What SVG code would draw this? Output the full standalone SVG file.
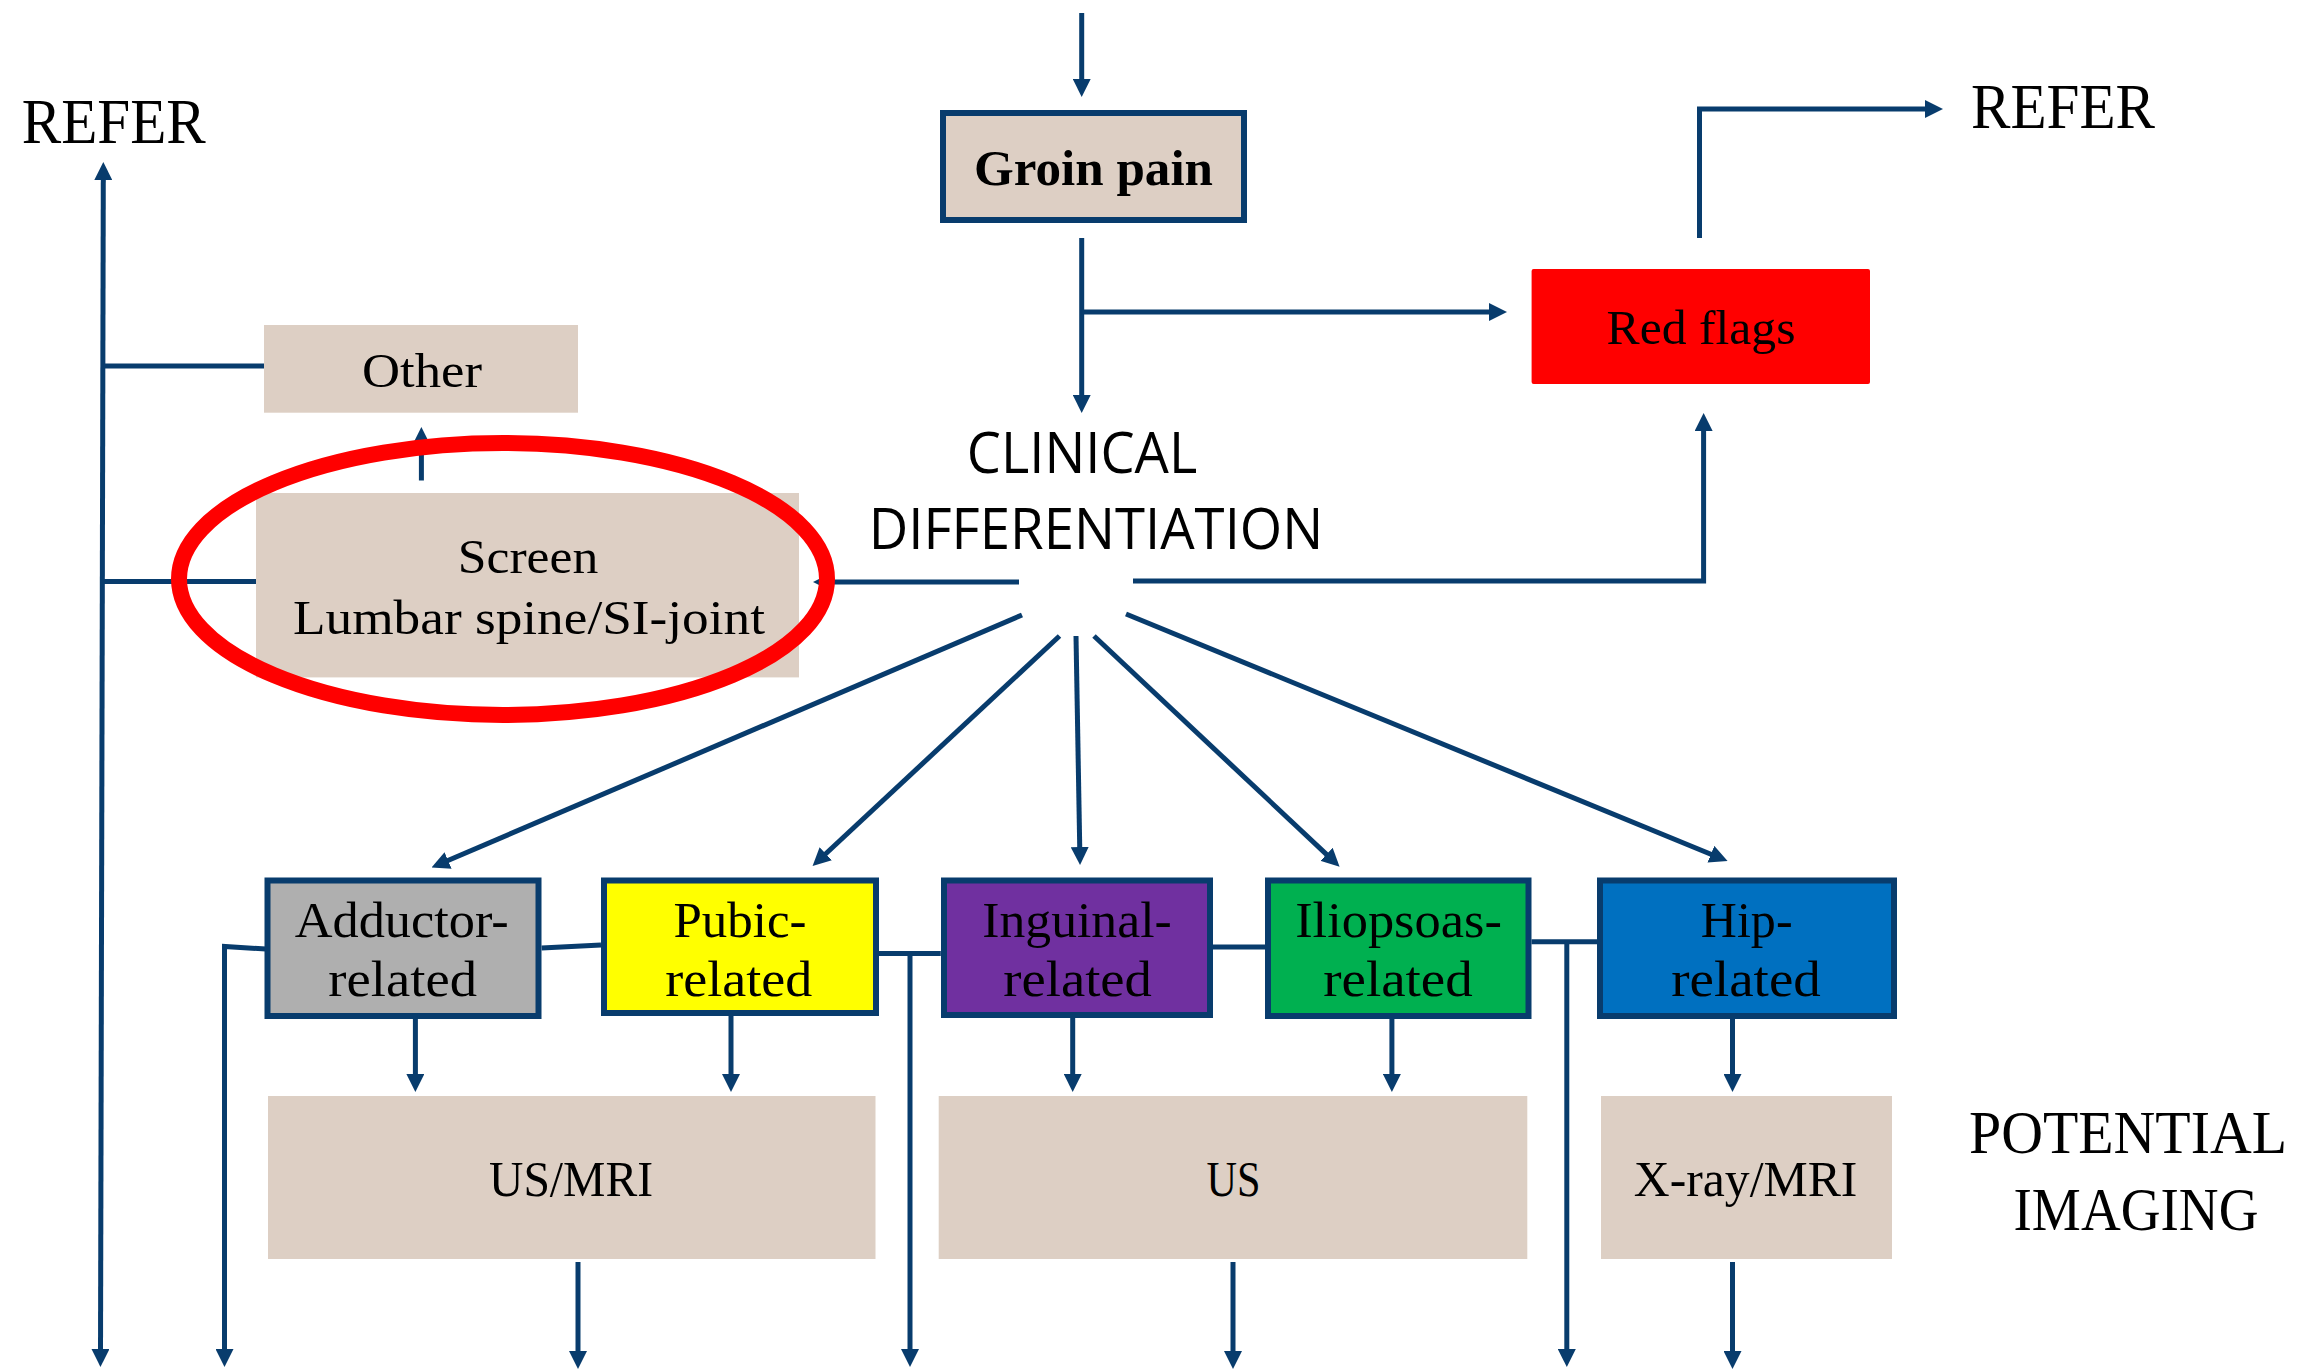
<svg xmlns="http://www.w3.org/2000/svg" width="2306" height="1372" viewBox="0 0 2306 1372">
<style>
.c{fill:none;stroke:#083c6d;stroke-width:5}
.t{stroke:#083c6d;stroke-width:6}
.tan{fill:#ddcfc4}
.s{font-family:"Liberation Serif",serif;fill:#000;text-anchor:middle}
.ss{font-family:"Open Sans","Liberation Sans",sans-serif;fill:#000;text-anchor:middle}
</style>
<defs>
<marker id="ah" markerUnits="userSpaceOnUse" markerWidth="18" markerHeight="18" refX="4" refY="9" orient="auto-start-reverse">
<path d="M0,0 L18,9 L0,18 z" fill="#083c6d"/>
</marker>
</defs>
<rect width="2306" height="1372" fill="#fff"/>
<g id="connectors">
<path class="c" d="M1081.7,13 L1081.7,83" marker-end="url(#ah)"/>
<path class="c" d="M1081.7,238 L1081.7,399" marker-end="url(#ah)"/>
<path class="c" d="M1081.7,312 L1493,312" marker-end="url(#ah)"/>
<path class="c" d="M1699.5,238 L1699.5,109 L1929,109" marker-end="url(#ah)"/>
<path class="c" d="M1133,581 L1703.6,581 L1703.6,427" marker-end="url(#ah)"/>
<path class="c" d="M1019,582 L827,582" marker-end="url(#ah)"/>
<path class="c" d="M1022,615 L444.4,862" marker-end="url(#ah)"/>
<path class="c" d="M1059.5,636 L822.8,856.5" marker-end="url(#ah)"/>
<path class="c" d="M1076,636 L1079.8,851" marker-end="url(#ah)"/>
<path class="c" d="M1094,636 L1329.4,857.1" marker-end="url(#ah)"/>
<path class="c" d="M1126,614 L1714.6,855.7" marker-end="url(#ah)"/>
<path class="c" d="M100.5,1353 L103.3,176" marker-start="url(#ah)" marker-end="url(#ah)"/>
<path class="c" d="M101,366 L264,366"/>
<path class="c" d="M101,581.4 L256,581.4"/>
<path class="c" d="M421.4,480.5 L421.4,441" marker-end="url(#ah)"/>
<path class="c" d="M266,949 L224.5,946.5 L224.5,1353" marker-end="url(#ah)"/>
<path class="c" d="M541.6,948 L601,945"/>
<path class="c" d="M879,953.6 L940.8,953.6"/>
<path class="c" d="M910,953.6 L910,1353" marker-end="url(#ah)"/>
<path class="c" d="M1213,947 L1265,947"/>
<path class="c" d="M1531.5,941.7 L1597,941.7"/>
<path class="c" d="M1566.8,941.7 L1566.8,1353" marker-end="url(#ah)"/>
<path class="c" d="M415.4,1019 L415.4,1078" marker-end="url(#ah)"/>
<path class="c" d="M731,1016 L731,1078" marker-end="url(#ah)"/>
<path class="c" d="M1072.7,1018 L1072.7,1078" marker-end="url(#ah)"/>
<path class="c" d="M1391.9,1019 L1391.9,1078" marker-end="url(#ah)"/>
<path class="c" d="M1732.5,1019 L1732.5,1078" marker-end="url(#ah)"/>
<path class="c" d="M578,1262 L578,1355" marker-end="url(#ah)"/>
<path class="c" d="M1233,1262 L1233,1355" marker-end="url(#ah)"/>
<path class="c" d="M1732.5,1262 L1732.5,1355" marker-end="url(#ah)"/>
</g>
<g id="groin-pain">
<rect class="tan t" x="943" y="113" width="301" height="107"/>
<text class="s" x="1093.5" y="185" font-size="50" font-weight="bold" textLength="239" lengthAdjust="spacingAndGlyphs">Groin pain</text>
</g>
<g id="red-flags">
<rect x="1531.6" y="269" width="338.4" height="115" rx="2" fill="#ff0000"/>
<text class="s" x="1701" y="344" font-size="49" textLength="189" lengthAdjust="spacingAndGlyphs">Red flags</text>
</g>
<g id="refer-right">
<text class="s" x="2063" y="128" font-size="63" textLength="184" lengthAdjust="spacingAndGlyphs">REFER</text>
</g>
<g id="refer-left">
<text class="s" x="113.7" y="142.6" font-size="63" textLength="184" lengthAdjust="spacingAndGlyphs">REFER</text>
</g>
<g id="clinical-differentiation">
<text class="ss" x="1082" y="472.7" font-size="56" textLength="230.5" lengthAdjust="spacingAndGlyphs">CLINICAL</text>
<text class="ss" x="1096" y="549" font-size="56" textLength="454.5" lengthAdjust="spacingAndGlyphs">DIFFERENTIATION</text>
</g>
<g id="other">
<rect class="tan" x="264" y="325" width="314" height="87.7"/>
<text class="s" x="422" y="387" font-size="49" textLength="120" lengthAdjust="spacingAndGlyphs">Other</text>
</g>
<g id="screen">
<rect class="tan" x="256" y="493" width="543" height="184.4"/>
<text class="s" x="528" y="573" font-size="48" textLength="140.5" lengthAdjust="spacingAndGlyphs">Screen</text>
<text class="s" x="529" y="633.7" font-size="48" textLength="472" lengthAdjust="spacingAndGlyphs">Lumbar spine/SI-joint</text>
</g>
<g id="adductor">
<rect class="t" fill="#afafaf" x="267.5" y="880.5" width="271" height="135.5"/>
<text class="s" x="401.7" y="936.6" font-size="50" textLength="214" lengthAdjust="spacingAndGlyphs">Adductor-</text>
<text class="s" x="402.7" y="996" font-size="50" textLength="148.7" lengthAdjust="spacingAndGlyphs">related</text>
</g>
<g id="pubic">
<rect class="t" fill="#ffff00" x="604" y="880.5" width="272" height="132.5"/>
<text class="s" x="740" y="936.6" font-size="50" textLength="133" lengthAdjust="spacingAndGlyphs">Pubic-</text>
<text class="s" x="738.7" y="996" font-size="50" textLength="147" lengthAdjust="spacingAndGlyphs">related</text>
</g>
<g id="inguinal">
<rect class="t" fill="#7030a0" x="944" y="880.5" width="266" height="134.5"/>
<text class="s" x="1077" y="936.6" font-size="50" textLength="189.4" lengthAdjust="spacingAndGlyphs">Inguinal-</text>
<text class="s" x="1077.6" y="996" font-size="50" textLength="148.7" lengthAdjust="spacingAndGlyphs">related</text>
</g>
<g id="iliopsoas">
<rect class="t" fill="#00b050" x="1268" y="880.5" width="260.5" height="135.5"/>
<text class="s" x="1398.5" y="936.6" font-size="50" textLength="206.7" lengthAdjust="spacingAndGlyphs">Iliopsoas-</text>
<text class="s" x="1398" y="996" font-size="50" textLength="149.5" lengthAdjust="spacingAndGlyphs">related</text>
</g>
<g id="hip">
<rect class="t" fill="#0070c0" x="1600" y="880.5" width="294" height="135.5"/>
<text class="s" x="1746.7" y="936.6" font-size="50" textLength="91.7" lengthAdjust="spacingAndGlyphs">Hip-</text>
<text class="s" x="1746" y="996" font-size="50" textLength="149.6" lengthAdjust="spacingAndGlyphs">related</text>
</g>
<g id="us-mri">
<rect class="tan" x="268" y="1096" width="607.5" height="163"/>
<text class="s" x="571" y="1196" font-size="50" textLength="164" lengthAdjust="spacingAndGlyphs">US/MRI</text>
</g>
<g id="us">
<rect class="tan" x="938.7" y="1096" width="588.6" height="163"/>
<text class="s" x="1233.6" y="1196" font-size="50" textLength="54" lengthAdjust="spacingAndGlyphs">US</text>
</g>
<g id="xray-mri">
<rect class="tan" x="1601" y="1096" width="291" height="163"/>
<text class="s" x="1745.6" y="1196" font-size="50" textLength="223.6" lengthAdjust="spacingAndGlyphs">X-ray/MRI</text>
</g>
<g id="potential-imaging">
<text class="s" x="2128" y="1153" font-size="61" textLength="318" lengthAdjust="spacingAndGlyphs">POTENTIAL</text>
<text class="s" x="2136" y="1230" font-size="61" textLength="245" lengthAdjust="spacingAndGlyphs">IMAGING</text>
</g>
<g id="highlight">
<ellipse cx="503" cy="579" rx="324" ry="136" fill="none" stroke="#ff0000" stroke-width="16"/>
</g>
</svg>
